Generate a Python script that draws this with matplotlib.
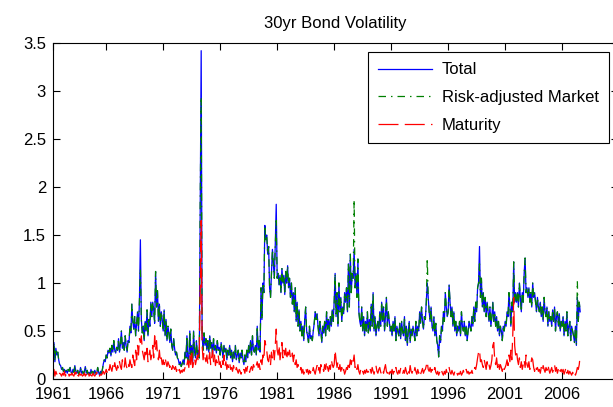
import numpy as np
import pandas as pd
import matplotlib
matplotlib.use('Agg')
import matplotlib.pyplot as plt

# monthly values, May 1961 .. Aug 2007
total = [
    # 1961 (May-Dec)
    0.22, 0.38, 0.18, 0.32, 0.25, 0.28, 0.20, 0.15,
    # 1962
    0.14, 0.10, 0.12, 0.08, 0.10, 0.07, 0.09, 0.06, 0.10, 0.08, 0.12, 0.07,
    # 1963
    0.06, 0.10, 0.07, 0.14, 0.08, 0.06, 0.09, 0.05, 0.07, 0.12, 0.06, 0.08,
    # 1964
    0.05, 0.08, 0.13, 0.06, 0.09, 0.05, 0.07, 0.04, 0.10, 0.06, 0.08, 0.05,
    # 1965
    0.09, 0.06, 0.05, 0.12, 0.07, 0.04, 0.08, 0.05, 0.10, 0.16, 0.20, 0.18,
    # 1966
    0.25, 0.22, 0.30, 0.27, 0.32, 0.24, 0.35, 0.28, 0.40, 0.30, 0.27, 0.33,
    # 1967
    0.30, 0.42, 0.28, 0.36, 0.50, 0.32, 0.38, 0.30, 0.45, 0.35, 0.28, 0.40,
    # 1968
    0.38, 0.55, 0.48, 0.78, 0.60, 0.52, 0.65, 0.45, 0.58, 0.70, 0.50, 0.82,
    # 1969
    1.45, 0.62, 0.48, 0.55, 0.40, 0.60, 0.50, 0.72, 0.45, 0.62, 0.55, 0.80,
    # 1970
    0.65, 0.80, 0.72, 0.58, 1.12, 0.75, 0.92, 0.60, 0.78, 0.55, 0.70, 0.62,
    # 1971
    0.50, 0.72, 0.45, 0.62, 0.40, 0.55, 0.48, 0.38, 0.52, 0.35, 0.30, 0.42,
    # 1972
    0.32, 0.25, 0.28, 0.22, 0.20, 0.15, 0.18, 0.13, 0.16, 0.20, 0.15, 0.28,
    # 1973
    0.22, 0.45, 0.20, 0.18, 0.50, 0.25, 0.35, 0.15, 0.50, 0.28, 0.22, 0.40,
    # 1974
    0.25, 0.30, 0.22, 1.90, 3.42, 0.45, 0.30, 0.48, 0.35, 0.42, 0.30, 0.40,
    # 1975
    0.28, 0.45, 0.32, 0.38, 0.25, 0.42, 0.30, 0.35, 0.27, 0.40, 0.30, 0.33,
    # 1976
    0.25, 0.38, 0.30, 0.22, 0.35, 0.28, 0.32, 0.20, 0.30, 0.25, 0.35, 0.22,
    # 1977
    0.30, 0.18, 0.28, 0.22, 0.35, 0.20, 0.25, 0.30, 0.17, 0.27, 0.22, 0.30,
    # 1978
    0.20, 0.15, 0.25, 0.18, 0.30, 0.22, 0.35, 0.27, 0.40, 0.25, 0.45, 0.30,
    # 1979
    0.28, 0.35, 0.25, 0.55, 0.30, 0.40, 0.28, 0.95, 0.62, 1.00, 0.90, 1.60,
    # 1980
    1.45, 1.50, 1.30, 1.38, 0.95, 0.85, 1.10, 1.35, 1.20, 1.05, 1.40, 1.82,
    # 1981
    1.05, 1.10, 0.98, 1.08, 0.90, 1.15, 1.00, 1.08, 0.88, 1.12, 1.00, 1.18,
    # 1982
    0.95, 1.05, 0.85, 1.00, 0.78, 0.90, 0.70, 0.95, 0.60, 0.80, 0.55, 0.72,
    # 1983
    0.50, 0.60, 0.45, 0.55, 0.40, 0.62, 0.75, 0.50, 0.45, 0.38, 0.55, 0.42,
    # 1984
    0.45, 0.40, 0.50, 0.58, 0.70, 0.62, 0.68, 0.55, 0.45, 0.60, 0.50, 0.38,
    # 1985
    0.55, 0.48, 0.60, 0.45, 0.70, 0.52, 0.62, 0.50, 0.65, 0.55, 0.72, 0.60,
    # 1986
    0.80, 1.10, 0.65, 0.90, 0.55, 1.00, 0.70, 0.85, 0.60, 0.75, 0.68, 0.90,
    # 1987
    0.80, 0.95, 0.70, 1.20, 0.75, 1.30, 0.90, 1.10, 1.05, 1.35, 0.95, 1.10,
    # 1988
    0.85, 1.25, 0.70, 0.60, 0.55, 0.75, 0.50, 0.65, 0.45, 0.60, 0.50, 0.70,
    # 1989
    0.48, 0.62, 0.50, 0.78, 0.55, 0.90, 0.50, 0.65, 0.45, 0.55, 0.60, 0.50,
    # 1990
    0.70, 0.55, 0.80, 0.60, 0.75, 0.50, 0.65, 0.85, 0.55, 0.70, 0.60, 0.50,
    # 1991
    0.55, 0.45, 0.60, 0.50, 0.65, 0.40, 0.55, 0.50, 0.45, 0.58, 0.42, 0.60,
    # 1992
    0.50, 0.45, 0.65, 0.40, 0.55, 0.35, 0.50, 0.60, 0.38, 0.52, 0.45, 0.55,
    # 1993
    0.48, 0.40, 0.60, 0.45, 0.55, 0.50, 0.70, 0.58, 0.75, 0.60, 0.52, 0.65,
    # 1994
    0.62, 0.80, 1.00, 0.85, 0.70, 0.60, 0.75, 0.55, 0.50, 0.65, 0.45, 0.58,
    # 1995
    0.40, 0.35, 0.23, 0.45, 0.38, 0.55, 0.50, 0.70, 0.60, 0.90, 0.75, 0.65,
    # 1996
    0.70, 0.98, 0.80, 0.65, 0.75, 0.55, 0.70, 0.50, 0.60, 0.45, 0.55, 0.50,
    # 1997
    0.60, 0.45, 0.70, 0.55, 0.50, 0.60, 0.45, 0.55, 0.40, 0.50, 0.60, 0.55,
    # 1998
    0.50, 0.65, 0.55, 0.75, 0.60, 0.80, 0.70, 0.95, 1.00, 1.38, 0.85, 1.05,
    # 1999
    0.75, 0.90, 0.70, 0.85, 0.65, 0.80, 0.70, 0.60, 0.75, 0.55, 0.65, 0.80,
    # 2000
    0.60, 0.70, 0.55, 0.65, 0.50, 0.60, 0.45, 0.55, 0.50, 0.40, 0.55, 0.50,
    # 2001
    0.60, 0.55, 0.70, 0.65, 0.90, 0.75, 0.55, 0.80, 0.70, 1.22, 0.80, 0.90,
    # 2002
    0.80, 0.90, 0.75, 1.00, 0.85, 0.70, 0.90, 0.80, 1.10, 1.26, 0.90, 0.95,
    # 2003
    0.85, 0.95, 0.80, 0.90, 0.75, 1.00, 0.85, 0.90, 0.80, 0.70, 0.85, 0.75,
    # 2004
    0.70, 0.80, 0.65, 0.75, 0.60, 0.85, 0.70, 0.65, 0.75, 0.55, 0.70, 0.60,
    # 2005
    0.65, 0.55, 0.72, 0.60, 0.75, 0.50, 0.65, 0.70, 0.55, 0.68, 0.50, 0.60,
    # 2006
    0.55, 0.65, 0.45, 0.60, 0.50, 0.70, 0.45, 0.55, 0.60, 0.40, 0.55, 0.50,
    # 2007 (Jan-Aug)
    0.45, 0.38, 0.55, 0.35, 0.85, 0.60, 0.80, 0.70,
]

maturity = [
    # 1961 (May-Dec)
    0.05, 0.10, 0.03, 0.08, 0.05, 0.07, 0.04, 0.06,
    # 1962
    0.05, 0.03, 0.06, 0.04, 0.08, 0.03, 0.05, 0.04, 0.07, 0.03, 0.05, 0.04,
    # 1963
    0.06, 0.04, 0.03, 0.07, 0.05, 0.09, 0.04, 0.03, 0.06, 0.04, 0.05, 0.03,
    # 1964
    0.04, 0.06, 0.03, 0.05, 0.04, 0.08, 0.03, 0.05, 0.04, 0.03, 0.06, 0.04,
    # 1965
    0.03, 0.05, 0.07, 0.04, 0.06, 0.03, 0.05, 0.04, 0.06, 0.08, 0.05, 0.07,
    # 1966
    0.10, 0.07, 0.12, 0.09, 0.15, 0.11, 0.08, 0.14, 0.10, 0.17, 0.12, 0.09,
    # 1967
    0.14, 0.11, 0.18, 0.13, 0.10, 0.20, 0.15, 0.12, 0.22, 0.14, 0.11, 0.16,
    # 1968
    0.13, 0.20, 0.15, 0.12, 0.25, 0.18, 0.14, 0.30, 0.20, 0.35, 0.25, 0.42,
    # 1969
    0.38, 0.45, 0.30, 0.25, 0.20, 0.28, 0.22, 0.32, 0.18, 0.25, 0.30, 0.20,
    # 1970
    0.25, 0.35, 0.22, 0.45, 0.30, 0.40, 0.25, 0.20, 0.30, 0.18, 0.22, 0.15,
    # 1971
    0.20, 0.15, 0.22, 0.17, 0.13, 0.18, 0.15, 0.12, 0.16, 0.10, 0.14, 0.12,
    # 1972
    0.10, 0.13, 0.08, 0.11, 0.07, 0.10, 0.06, 0.09, 0.07, 0.10, 0.08, 0.12,
    # 1973
    0.10, 0.15, 0.20, 0.12, 0.25, 0.15, 0.30, 0.12, 0.18, 0.22, 0.15, 0.20,
    # 1974
    0.25, 0.18, 0.30, 0.90, 1.65, 0.35, 0.20, 0.28, 0.22, 0.18, 0.25, 0.15,
    # 1975
    0.20, 0.28, 0.15, 0.22, 0.30, 0.18, 0.25, 0.14, 0.20, 0.17, 0.24, 0.15,
    # 1976
    0.18, 0.12, 0.20, 0.15, 0.25, 0.13, 0.18, 0.10, 0.15, 0.12, 0.17, 0.10,
    # 1977
    0.12, 0.08, 0.14, 0.10, 0.07, 0.12, 0.09, 0.06, 0.10, 0.08, 0.05, 0.09,
    # 1978
    0.07, 0.10, 0.06, 0.12, 0.08, 0.14, 0.10, 0.07, 0.11, 0.13, 0.09, 0.15,
    # 1979
    0.12, 0.10, 0.14, 0.18, 0.12, 0.16, 0.10, 0.20, 0.15, 0.25, 0.20, 0.40,
    # 1980
    0.35, 0.30, 0.20, 0.18, 0.25, 0.15, 0.28, 0.22, 0.30, 0.20, 0.35, 0.52,
    # 1981
    0.30, 0.25, 0.35, 0.20, 0.28, 0.38, 0.22, 0.30, 0.25, 0.32, 0.20, 0.28,
    # 1982
    0.25, 0.30, 0.22, 0.20, 0.27, 0.18, 0.25, 0.15, 0.20, 0.12, 0.15, 0.10,
    # 1983
    0.08, 0.12, 0.06, 0.10, 0.05, 0.08, 0.12, 0.07, 0.10, 0.05, 0.09, 0.06,
    # 1984
    0.10, 0.07, 0.12, 0.08, 0.05, 0.10, 0.14, 0.08, 0.12, 0.06, 0.15, 0.10,
    # 1985
    0.12, 0.08, 0.15, 0.10, 0.18, 0.12, 0.08, 0.14, 0.10, 0.20, 0.15, 0.12,
    # 1986
    0.15, 0.30, 0.20, 0.12, 0.18, 0.10, 0.15, 0.08, 0.12, 0.06, 0.10, 0.05,
    # 1987
    0.08, 0.12, 0.10, 0.18, 0.12, 0.20, 0.15, 0.22, 0.18, 0.25, 0.12, 0.15,
    # 1988
    0.10, 0.15, 0.08, 0.05, 0.10, 0.06, 0.08, 0.05, 0.09, 0.06, 0.10, 0.07,
    # 1989
    0.08, 0.05, 0.10, 0.06, 0.12, 0.08, 0.05, 0.10, 0.14, 0.08, 0.06, 0.10,
    # 1990
    0.12, 0.07, 0.05, 0.09, 0.06, 0.11, 0.15, 0.08, 0.06, 0.10, 0.05, 0.08,
    # 1991
    0.06, 0.10, 0.05, 0.08, 0.06, 0.12, 0.07, 0.05, 0.09, 0.06, 0.11, 0.07,
    # 1992
    0.05, 0.09, 0.06, 0.12, 0.08, 0.05, 0.10, 0.06, 0.14, 0.08, 0.06, 0.10,
    # 1993
    0.07, 0.12, 0.08, 0.05, 0.10, 0.06, 0.09, 0.05, 0.08, 0.11, 0.06, 0.09,
    # 1994
    0.10, 0.14, 0.18, 0.10, 0.08, 0.12, 0.07, 0.10, 0.06, 0.09, 0.12, 0.07,
    # 1995
    0.05, 0.08, 0.04, 0.07, 0.05, 0.09, 0.06, 0.04, 0.08, 0.05, 0.10, 0.06,
    # 1996
    0.08, 0.12, 0.07, 0.05, 0.09, 0.06, 0.04, 0.08, 0.05, 0.07, 0.04, 0.06,
    # 1997
    0.05, 0.08, 0.04, 0.06, 0.09, 0.05, 0.07, 0.10, 0.06, 0.08, 0.05, 0.07,
    # 1998
    0.06, 0.09, 0.05, 0.08, 0.12, 0.10, 0.15, 0.22, 0.28, 0.30, 0.18, 0.20,
    # 1999
    0.15, 0.12, 0.20, 0.15, 0.10, 0.18, 0.12, 0.15, 0.10, 0.14, 0.20, 0.35,
    # 2000
    0.38, 0.20, 0.15, 0.22, 0.12, 0.18, 0.10, 0.15, 0.12, 0.08, 0.14, 0.10,
    # 2001
    0.12, 0.15, 0.20, 0.14, 0.25, 0.18, 0.30, 0.20, 0.45, 0.85, 0.35, 0.25,
    # 2002
    0.30, 0.20, 0.15, 0.22, 0.12, 0.18, 0.10, 0.15, 0.20, 0.12, 0.25, 0.15,
    # 2003
    0.12, 0.18, 0.10, 0.15, 0.22, 0.20, 0.12, 0.08, 0.14, 0.10, 0.12, 0.08,
    # 2004
    0.10, 0.06, 0.12, 0.08, 0.14, 0.10, 0.07, 0.12, 0.09, 0.15, 0.10, 0.06,
    # 2005
    0.09, 0.12, 0.07, 0.10, 0.15, 0.08, 0.12, 0.06, 0.10, 0.13, 0.08, 0.10,
    # 2006
    0.07, 0.10, 0.05, 0.08, 0.12, 0.06, 0.09, 0.05, 0.08, 0.06, 0.04, 0.07,
    # 2007 (Jan-Aug)
    0.05, 0.08, 0.04, 0.07, 0.12, 0.10, 0.15, 0.25,
]

# months where the risk-adjusted market component differs from the total
risk_adj_diff = {
    '1969-01': 1.15,
    '1974-05': 2.94,
    '1980-12': 1.65,
    '1987-10': 1.87,
    '1994-03': 1.26,
    '1998-10': 1.20,
    '2007-05': 1.02,
}

year_ticks = [1961, 1966, 1971, 1976, 1981, 1986, 1991, 1996, 2001, 2006]

dates = pd.period_range('1961-05', periods=len(total), freq='M')
df = pd.DataFrame({'total': total, 'maturity': maturity}, index=dates)
df['risk_adj'] = df['total']
for m, v in risk_adj_diff.items():
    df.loc[pd.Period(m, freq='M'), 'risk_adj'] = v
t = dates.year + (dates.month - 1) / 12.0

plt.rcParams['font.family'] = ['Liberation Sans Narrow', 'Liberation Sans', 'DejaVu Sans']
plt.rcParams['font.size'] = 12

fig = plt.figure(figsize=(6.13, 4.07), dpi=100)
ax = fig.add_axes([53 / 613, 28 / 407, 565 / 613, 336 / 407])

lw = 0.9
ax.plot(t, df['total'], color=(0, 0, 1), lw=lw, label='Total')
ax.plot(t, df['risk_adj'], color=(0, 0.5, 0), lw=lw,
        linestyle=(0, (6, 4, 1.2, 4)), label='Risk-adjusted Market')
ax.plot(t, df['maturity'], color=(1, 0, 0), lw=lw,
        linestyle=(0, (16, 5)), label='Maturity')

x0 = t[0]
ax.set_xlim(x0, 2010.9)
ax.set_ylim(0, 3.5)
ax.set_xticks([x0] + year_ticks[1:])
ax.set_xticklabels([str(y) for y in year_ticks])
ax.set_yticks(np.arange(0, 3.51, 0.5))
ax.set_yticklabels(['0', '0.5', '1', '1.5', '2', '2.5', '3', '3.5'])
ax.tick_params(direction='in', length=5, width=0.8, top=True, right=True,
               labelsize=12)
ax.tick_params(axis='x', pad=6)
ax.tick_params(axis='y', pad=5)
for s in ax.spines.values():
    s.set_linewidth(0.8)

ax.set_title('30yr Bond Volatility', fontsize=12, pad=11)

leg = ax.legend(loc='upper right', bbox_to_anchor=(556 / 565, 1 - 9 / 336),
                borderaxespad=0, fancybox=False, edgecolor='black',
                framealpha=1, handlelength=3.2, handletextpad=0.6,
                labelspacing=0.76, borderpad=0.62, fontsize=12)
leg.get_frame().set_linewidth(0.8)

fig.savefig('out.png', dpi=100)
